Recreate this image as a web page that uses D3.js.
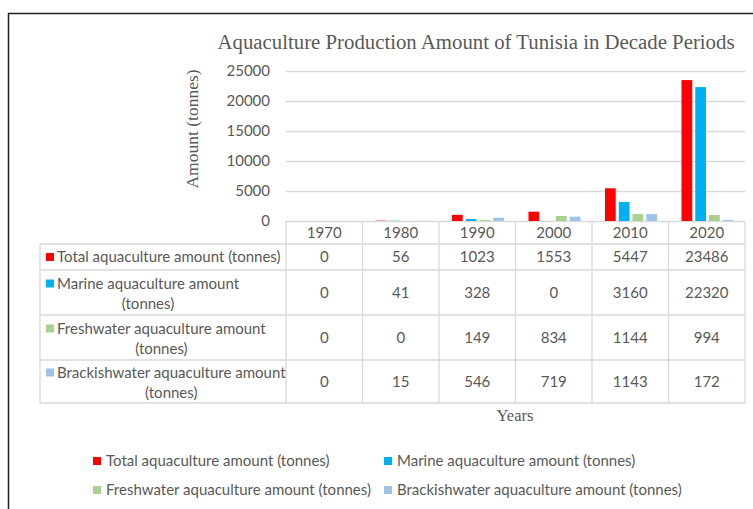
<!DOCTYPE html>
<html>
<head>
<meta charset="utf-8">
<script src="https://cdn.jsdelivr.net/npm/d3@7"></script>
<style>
  body { margin: 0; background: #fff; }
  svg { display: block; }
</style>
</head>
<body>
<div id="chart"></div>
<script>
// données
var years = ["1970", "1980", "1990", "2000", "2010", "2020"];
var totalAmount = [0, 56, 1023, 1553, 5447, 23486];
var marineAmount = [0, 41, 328, 0, 3160, 22320];
var freshAmount = [0, 0, 149, 834, 1144, 994];
var brackishAmount = [0, 15, 546, 719, 1143, 172];
var seriesNames = ["Total aquaculture amount (tonnes)", "Marine aquaculture amount (tonnes)",
                   "Freshwater aquaculture amount (tonnes)", "Brackishwater aquaculture amount (tonnes)"];
var yTicks = [0, 5000, 10000, 15000, 20000, 25000];

var colors = ["#FF0000", "#00B0F0", "#A9D18E", "#9DC3E6"];
var series = [totalAmount, marineAmount, freshAmount, brackishAmount];

var W = 753, H = 509;
var sans = "Lato, 'Open Sans', sans-serif";
var serif = "'Liberation Serif', 'DejaVu Serif', serif";
var grey = "#595959", lineCol = "#D9D9D9";
var fs = 15;

var svg = d3.select("#chart").append("svg")
    .attr("width", W).attr("height", H);

// cadre noir (haut et gauche)
svg.append("path")
    .attr("d", "M8.5,509 V13.5 H753")
    .attr("fill", "none").attr("stroke", "#222").attr("stroke-width", 1.5);

var x = d3.scaleBand().domain(years).range([286, 745]);
var y = d3.scaleLinear().domain([0, 25000]).range([221, 71]);
var x1 = d3.scaleBand().domain(d3.range(4)).range([13, 65]).paddingInner(0.22);

svg.append("text")
    .attr("x", 476).attr("y", 49)
    .attr("text-anchor", "middle")
    .attr("font-family", serif).attr("font-size", 20.8)
    .attr("fill", grey)
    .text("Aquaculture Production Amount of Tunisia in Decade Periods");

// grille + étiquettes de l'axe
var yAxis = svg.append("g")
    .attr("transform", "translate(286,0)")
    .call(d3.axisLeft(y).tickValues(yTicks).tickFormat(d3.format("d"))
          .tickSize(-(745 - 286)).tickPadding(16));
yAxis.select(".domain").remove();
yAxis.selectAll(".tick line").attr("stroke", lineCol).attr("stroke-width", 1.3);
yAxis.selectAll(".tick text")
    .attr("font-family", sans).attr("font-size", fs).attr("fill", grey);

svg.append("text")
    .attr("transform", "translate(198,129) rotate(-90)")
    .attr("text-anchor", "middle")
    .attr("font-family", serif).attr("font-size", 17.5)
    .attr("fill", grey)
    .text("Amount (tonnes)");

// barres
var groups = svg.selectAll(".grp")
    .data(years).enter().append("g")
    .attr("class", "grp")
    .attr("transform", function(d) { return "translate(" + x(d) + ",0)"; });

groups.selectAll("rect")
    .data(function(d, i) { return series.map(function(s, k) { return {k: k, v: s[i]}; }); })
    .enter().append("rect")
    .attr("x", function(d) { return x1(d.k); })
    .attr("width", x1.bandwidth())
    .attr("y", function(d) { return y(d.v); })
    .attr("height", function(d) { return y(0) - y(d.v); })
    .attr("fill", function(d) { return colors[d.k]; });

// tableau de données
var rowTops = [221, 244, 270, 315, 360, 403];
var tbl = svg.append("g").attr("stroke", lineCol).attr("stroke-width", 1.3);
rowTops.slice(1).forEach(function(r) {
    tbl.append("line").attr("x1", 40).attr("x2", 745).attr("y1", r).attr("y2", r);
});
tbl.append("line").attr("x1", 40).attr("x2", 40).attr("y1", 244).attr("y2", 403);
years.forEach(function(yr) {
    tbl.append("line").attr("x1", x(yr)).attr("x2", x(yr)).attr("y1", 221).attr("y2", 403);
});
tbl.append("line").attr("x1", 745).attr("x2", 745).attr("y1", 221).attr("y2", 403);

svg.selectAll(".yr").data(years).enter().append("text")
    .attr("x", function(d) { return x(d) + x.bandwidth() / 2; })
    .attr("y", 238)
    .attr("text-anchor", "middle")
    .attr("font-family", sans).attr("font-size", fs).attr("fill", grey)
    .text(function(d) { return d; });

series.forEach(function(s, k) {
    var top = rowTops[k + 1], bot = rowTops[k + 2], mid = (top + bot) / 2;
    svg.selectAll(".v" + k).data(s).enter().append("text")
        .attr("x", function(d, i) { return x(years[i]) + x.bandwidth() / 2; })
        .attr("y", mid + 5)
        .attr("text-anchor", "middle")
        .attr("font-family", sans).attr("font-size", fs).attr("fill", grey)
        .text(function(d) { return d; });

    var twoLines = k > 0;
    var line1 = twoLines ? seriesNames[k].replace(" (tonnes)", "") : seriesNames[k];
    var y1 = twoLines ? mid - 4 : mid + 5;
    svg.append("rect")
        .attr("x", 46).attr("y", y1 - 9).attr("width", 8).attr("height", 8)
        .attr("fill", colors[k]);
    var t = svg.append("text")
        .attr("x", 57).attr("y", y1)
        .attr("font-family", sans).attr("font-size", fs).attr("fill", grey)
        .text(line1);
    if (twoLines) {
        var w = t.node().getComputedTextLength();
        svg.append("text")
            .attr("x", 57 + w / 2).attr("y", y1 + 20)
            .attr("text-anchor", "middle")
            .attr("font-family", sans).attr("font-size", fs).attr("fill", grey)
            .text("(tonnes)");
    }
});

svg.append("text")
    .attr("x", 515).attr("y", 421)
    .attr("text-anchor", "middle")
    .attr("font-family", serif).attr("font-size", 16.5)
    .attr("fill", grey)
    .text("Years");

// légende
var legPos = [[93, 462], [384, 462], [93, 491], [384, 491]];
seriesNames.forEach(function(name, k) {
    var p = legPos[k];
    svg.append("rect")
        .attr("x", p[0]).attr("y", p[1] - 5).attr("width", 8).attr("height", 8)
        .attr("fill", colors[k]);
    svg.append("text")
        .attr("x", p[0] + 13).attr("y", p[1] + 4)
        .attr("font-family", sans).attr("font-size", fs).attr("fill", grey)
        .text(name);
});
</script>
</body>
</html>
